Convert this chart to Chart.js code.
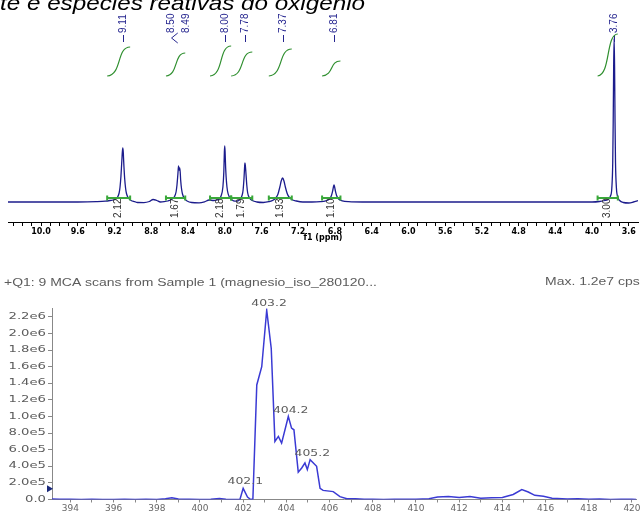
<!DOCTYPE html>
<html>
<head>
<meta charset="utf-8">
<script src="https://cdn.jsdelivr.net/npm/chart.js@4.4.1/dist/chart.umd.min.js"></script>
<style>
  html, body { margin: 0; padding: 0; background: #fff; }
  #wrap { position: relative; width: 644px; height: 513px; overflow: hidden; }
  canvas { position: absolute; left: 0; }
  #nmrChart { top: 0; }
  #msChart { top: 245px; }
</style>
</head>
<body>
<div id="wrap">
  <canvas id="nmrChart" width="644" height="245"></canvas>
  <canvas id="msChart" width="644" height="268"></canvas>
</div>
<script>
// ==========================================
// NMR SPECTRUM (top)
// ==========================================
const titleText = 'te e espécies reativas do oxigênio';

// chemical shift (ppm) and signal, one line per region
const nmrShift = [
  10.36, 9.60, 9.40, 9.30, 9.25, 9.20, 9.17, 9.15, 9.14, 9.13, 9.12, 9.115, 9.11, 9.105, 9.10, 9.09, 9.08, 9.07, 9.05, 9.02, 8.98,
  8.95, 8.88, 8.82, 8.78, 8.74, 8.70, 8.66, 8.62, 8.58, 8.55, 8.53, 8.52, 8.51, 8.503, 8.497, 8.49, 8.485, 8.48, 8.47, 8.46, 8.44, 8.41,
  8.36, 8.28, 8.22, 8.17, 8.12, 8.07, 8.04, 8.02, 8.01, 8.004, 8.00, 7.996, 7.99, 7.98, 7.97, 7.95, 7.92, 7.89,
  7.86, 7.83, 7.81, 7.80, 7.79, 7.783, 7.78, 7.776, 7.77, 7.76, 7.75, 7.73, 7.70, 7.65, 7.58,
  7.52, 7.47, 7.44, 7.42, 7.40, 7.385, 7.37, 7.355, 7.34, 7.32, 7.30, 7.27, 7.22, 7.15, 7.05,
  6.96, 6.90, 6.86, 6.84, 6.825, 6.81, 6.795, 6.78, 6.76, 6.72, 6.65, 6.50, 5.50, 4.50, 4.00,
  3.92, 3.86, 3.82, 3.80, 3.785, 3.775, 3.77, 3.765, 3.76, 3.755, 3.75, 3.745, 3.735, 3.72, 3.70, 3.66, 3.60, 3.55, 3.50
];
const nmrSignal = [
  0, 0, 0.3, 0.8, 1.5, 2.5, 4.5, 9, 15, 26, 42, 50, 54, 50, 40, 24, 14, 8.5, 4, 1.5, 0.3,
  -0.5, -0.6, 0.5, 2.5, 1.5, 0, 0.3, 1, 2.5, 5, 10, 17, 28, 36, 32, 34, 30, 22, 13, 8, 3.5, 1,
  -0.5, -0.8, 0.2, 2, 1.5, 2.5, 6, 15, 30, 50, 56, 50, 34, 19, 11, 5, 2, 0.8,
  1, 3, 7, 12, 24, 36, 39, 37, 30, 17, 9, 4, 1.5, 0, -0.5,
  0.3, 2, 4.5, 8, 15, 21, 24, 21, 15, 8.5, 5, 2.5, 1, 0, 0,
  0.3, 1.2, 3, 6, 11, 17, 11, 6, 3, 1.2, 0.3, 0, 0, 0, 0,
  0.5, 1.5, 3, 6, 14, 40, 80, 135, 164, 135, 80, 40, 14, 5, 1.5, -0.5, -1, 0, 1.5
];

const nmrTickLabels = ['10.0', '9.6', '9.2', '8.8', '8.4', '8.0', '7.6', '7.2', '6.8', '6.4', '6.0', '5.6', '5.2', '4.8', '4.4', '4.0', '3.6'];

// peak picking labels (text, where the text stands, whether it has its own dash)
const peakLabels = ['9.11', '8.50', '8.49', '8.00', '7.78', '7.37', '6.81', '3.76'];
const peakLabelAt = [9.11, 8.588, 8.424, 8.00, 7.78, 7.37, 6.81, 3.76];
const peakLabelDash = [true, false, false, true, true, true, true, true];

// integration regions
const integralFrom = [9.28, 8.64, 8.16, 7.93, 7.52, 6.94, 3.94];
const integralTo = [9.03, 8.43, 7.93, 7.70, 7.27, 6.74, 3.72];
const integralTop = [155, 149, 156, 150, 153, 141, 168];
const integralLabels = ['2.12', '1.67', '2.18', '1.79', '1.93', '1.10', '3.00'];
const integralBase = 126;

// ==========================================
// MASS SPECTRUM (bottom)
// ==========================================
const msTitle = '+Q1: 9 MCA scans from Sample 1 (magnesio_iso_280120...';
const msMaxText = 'Max. 1.2e7 cps';

const msMz = [
  393.15, 393.5, 394.0, 394.5, 395.0, 395.5, 396.0, 396.5, 397.0, 397.5, 398.0, 398.4, 398.7, 399.0, 399.5, 400.0, 400.5, 400.9, 401.2, 401.6,
  401.85, 402.0, 402.2, 402.35, 402.45, 402.63, 402.86, 403.09, 403.3, 403.47, 403.63, 403.78,
  404.09, 404.24, 404.35, 404.55, 404.71, 404.86, 404.97, 405.1, 405.4, 405.56, 405.7, 406.17, 406.48, 406.8,
  407.2, 407.6, 408.0, 408.5, 409.0, 409.5, 410.0, 410.6, 411.0, 411.5, 412.0, 412.5, 413.0, 413.5,
  414.0, 414.5, 414.9, 415.2, 415.5, 415.9, 416.3, 417.0, 417.5, 418.0, 418.5, 419.0, 419.5, 420.0, 420.2
];
const msCounts = [
  5000, 3000, 2000, 0, 2000, 0, 1000, 3000, 1000, 2000, 0, 8000, 20000, 5000, 2000, 0, 4000, 12000, 3000, 1000,
  0, 135000, 30000, 0, 5000, 1380000, 1600000, 2280000, 1820000, 700000, 760000, 680000,
  1000000, 860000, 840000, 330000, 380000, 440000, 360000, 480000, 400000, 135000, 110000, 95000, 35000, 10000,
  8000, 2000, 3000, 1000, 4000, 2000, 3000, 8000, 30000, 35000, 25000, 35000, 15000, 20000,
  25000, 60000, 120000, 90000, 50000, 40000, 15000, 5000, 8000, 2000, 5000, 1000, 4000, 2000, 1000
];

const msXTickLabels = ['394', '396', '398', '400', '402', '404', '406', '408', '410', '412', '414', '416', '418', '420'];
const msYTickValues = [0, 2e5, 4e5, 6e5, 8e5, 1e6, 1.2e6, 1.4e6, 1.6e6, 1.8e6, 2.0e6, 2.2e6];
const msYTickLabels = ['0.0', '2.0e5', '4.0e5', '6.0e5', '8.0e5', '1.0e6', '1.2e6', '1.4e6', '1.6e6', '1.8e6', '2.0e6', '2.2e6'];

const msPeakLabels = ['402.1', '403.2', '404.2', '405.2'];
const msPeakLabelAt = [402.1, 403.2, 404.2, 405.2];
const msPeakLabelHeight = [135000, 2280000, 1000000, 480000];
const msMarkerValue = 130000;

// ==========================================
// HELPERS
// ==========================================
function stretchText(ctx, text, x, y, sx, align) {
    ctx.save();
    ctx.translate(x, y);
    ctx.scale(sx, 1);
    ctx.textAlign = align;
    ctx.fillText(text, 0, 0);
    ctx.restore();
}

function verticalText(ctx, text, x, y) {
    ctx.save();
    ctx.translate(x, y);
    ctx.rotate(-Math.PI / 2);
    ctx.textAlign = 'left';
    ctx.textBaseline = 'middle';
    ctx.fillText(text, 0, 0);
    ctx.restore();
}

// ==========================================
// TOP OVERLAY: title, peak labels, integrals
// ==========================================
const nmrOverlay = {
    id: 'nmrOverlay',
    afterDraw(chart) {
        const ctx = chart.ctx;
        const xs = chart.scales.x, ys = chart.scales.y;
        ctx.save();

        // cut off title
        ctx.font = 'italic 20px "Liberation Sans", Arial, sans-serif';
        ctx.fillStyle = '#000';
        ctx.textBaseline = 'alphabetic';
        const tw = ctx.measureText(titleText).width;
        stretchText(ctx, titleText, 0, 9.5, 365 / tw, 'left');

        // peak labels
        ctx.font = '10px "Liberation Sans", Arial, sans-serif';
        ctx.fillStyle = '#25258f';
        ctx.strokeStyle = '#25258f';
        ctx.lineWidth = 1;
        peakLabels.forEach((t, i) => {
            const px = Math.round(xs.getPixelForValue(peakLabelAt[i]));
            verticalText(ctx, t, px, 33);
            if (peakLabelDash[i]) {
                ctx.beginPath();
                ctx.moveTo(px + 0.5, 35);
                ctx.lineTo(px + 0.5, 42);
                ctx.stroke();
            }
        });
        // multiplet bracket for 8.50 / 8.49
        const mx = xs.getPixelForValue(peakLabelAt[1]);
        ctx.beginPath();
        ctx.moveTo(mx + 7, 33);
        ctx.lineTo(mx + 0.8, 38);
        ctx.lineTo(mx + 7, 43);
        ctx.stroke();

        // integral curves
        ctx.strokeStyle = '#2f8f2f';
        ctx.lineWidth = 1.2;
        integralFrom.forEach((f, i) => {
            const x0 = xs.getPixelForValue(f), x1 = xs.getPixelForValue(integralTo[i]);
            const y0 = ys.getPixelForValue(integralBase), y1 = ys.getPixelForValue(integralTop[i]);
            const dx = x1 - x0;
            ctx.beginPath();
            ctx.moveTo(x0, y0);
            ctx.bezierCurveTo(x0 + 0.65 * dx, y0 - 1, x0 + 0.4 * dx, y1, x1, y1);
            ctx.stroke();
        });

        // integration bars
        ctx.strokeStyle = '#3aa83a';
        ctx.lineWidth = 2;
        const by = ys.getPixelForValue(4);
        integralFrom.forEach((f, i) => {
            const x0 = xs.getPixelForValue(f), x1 = xs.getPixelForValue(integralTo[i]);
            ctx.beginPath();
            ctx.moveTo(x0, by); ctx.lineTo(x1, by);
            ctx.moveTo(x0, by - 2.5); ctx.lineTo(x0, by + 2.5);
            ctx.moveTo(x1, by - 2.5); ctx.lineTo(x1, by + 2.5);
            ctx.stroke();
        });

        // integration values
        ctx.font = '10px "Liberation Sans", Arial, sans-serif';
        ctx.fillStyle = '#333';
        const ly = ys.getPixelForValue(-16);
        integralLabels.forEach((t, i) => {
            const cx = xs.getPixelForValue((integralFrom[i] + integralTo[i]) / 2);
            verticalText(ctx, t, cx, ly);
        });

        ctx.restore();
    }
};

// ==========================================
// BOTTOM OVERLAY: header, y labels, peak labels
// ==========================================
const msOverlay = {
    id: 'msOverlay',
    afterDraw(chart) {
        const ctx = chart.ctx;
        const xs = chart.scales.x, ys = chart.scales.y;
        ctx.save();
        ctx.fillStyle = '#5c5c5c';
        ctx.textBaseline = 'middle';

        ctx.font = '10px "Liberation Sans", Arial, sans-serif';
        const sx = 373 / ctx.measureText(msTitle).width;
        stretchText(ctx, msTitle, 4, 38, sx, 'left');
        stretchText(ctx, msMaxText, 545, 37, sx, 'left');

        ctx.font = '8px "DejaVu Sans", sans-serif';
        msYTickValues.forEach((v, i) => {
            stretchText(ctx, msYTickLabels[i], 46, ys.getPixelForValue(v), 1.65, 'right');
        });

        msPeakLabels.forEach((t, i) => {
            const px = xs.getPixelForValue(msPeakLabelAt[i]);
            const py = ys.getPixelForValue(msPeakLabelHeight[i]) - 6;
            stretchText(ctx, t, px, py, 1.55, 'center');
        });

        // threshold marker on the y axis
        const my = ys.getPixelForValue(msMarkerValue);
        ctx.fillStyle = '#1b2a7a';
        ctx.beginPath();
        ctx.moveTo(47, my - 3.5);
        ctx.lineTo(53, my);
        ctx.lineTo(47, my + 3.5);
        ctx.closePath();
        ctx.fill();

        ctx.restore();
    }
};

// ==========================================
// CHARTS
// ==========================================
function initCharts() {
    const nmrTicks = [];
    for (let k = 36; k <= 103; k++) nmrTicks.push(k / 10);

    new Chart(document.getElementById('nmrChart'), {
        type: 'line',
        data: {
            datasets: [{
                data: nmrShift.map((s, i) => ({ x: s, y: nmrSignal[i] })),
                borderColor: '#1c1c8c',
                borderWidth: 1.3,
                pointRadius: 0,
                cubicInterpolationMode: 'monotone',
                fill: false
            }]
        },
        options: {
            responsive: false,
            animation: false,
            devicePixelRatio: 1,
            layout: { padding: { left: 8, right: 6, top: 20, bottom: 0 } },
            plugins: { legend: { display: false }, tooltip: { enabled: false } },
            scales: {
                x: {
                    type: 'linear',
                    reverse: true,
                    min: 3.50,
                    max: 10.36,
                    afterBuildTicks: s => { s.ticks = nmrTicks.map(v => ({ value: v })); },
                    afterFit: s => { s.height = 23; },
                    border: { color: '#000', width: 1 },
                    grid: { drawOnChartArea: false, drawTicks: true, tickLength: 4, color: '#000' },
                    ticks: {
                        autoSkip: false,
                        maxRotation: 0,
                        padding: 1,
                        color: '#000',
                        font: { family: 'DejaVu Sans', size: 8, weight: 'bold' },
                        callback: v => nmrTickLabels.includes(v.toFixed(1)) ? v.toFixed(1) : ''
                    },
                    title: {
                        display: true,
                        text: 'f1 (ppm)',
                        color: '#000',
                        font: { family: 'DejaVu Sans', size: 8, weight: 'bold' },
                        padding: { top: 0, bottom: 2 }
                    }
                },
                y: { display: false, min: -20, max: 182 }
            }
        },
        plugins: [nmrOverlay]
    });

    const msTicks = [];
    for (let m = 394; m <= 420; m++) msTicks.push(m);

    new Chart(document.getElementById('msChart'), {
        type: 'line',
        data: {
            datasets: [{
                data: msMz.map((m, i) => ({ x: m, y: msCounts[i] })),
                borderColor: '#3a3ad4',
                borderWidth: 1.5,
                pointRadius: 0,
                tension: 0,
                fill: false
            }]
        },
        options: {
            responsive: false,
            animation: false,
            devicePixelRatio: 1,
            layout: { padding: { left: 0, right: 7.7, top: 63.6, bottom: 0 } },
            plugins: { legend: { display: false }, tooltip: { enabled: false } },
            scales: {
                x: {
                    type: 'linear',
                    min: 393.15,
                    max: 420.2,
                    afterBuildTicks: s => { s.ticks = msTicks.map(v => ({ value: v })); },
                    afterFit: s => { s.height = 13.5; },
                    border: { color: '#888', width: 1 },
                    grid: { drawOnChartArea: false, drawTicks: true, tickLength: 3, color: '#888' },
                    ticks: {
                        autoSkip: false,
                        maxRotation: 0,
                        padding: 1,
                        color: '#666',
                        font: { family: 'DejaVu Sans', size: 9 },
                        callback: v => msXTickLabels.includes(String(v)) ? String(v) : ''
                    }
                },
                y: {
                    min: 0,
                    max: 2.3e6,
                    afterBuildTicks: s => { s.ticks = msYTickValues.map(v => ({ value: v })); },
                    afterFit: s => { s.width = 52; },
                    border: { color: '#888', width: 1 },
                    grid: { drawOnChartArea: false, drawTicks: true, tickLength: 4, color: '#888' },
                    ticks: { display: false }
                }
            }
        },
        plugins: [msOverlay]
    });
}

document.addEventListener('DOMContentLoaded', initCharts);
</script>
</body>
</html>
